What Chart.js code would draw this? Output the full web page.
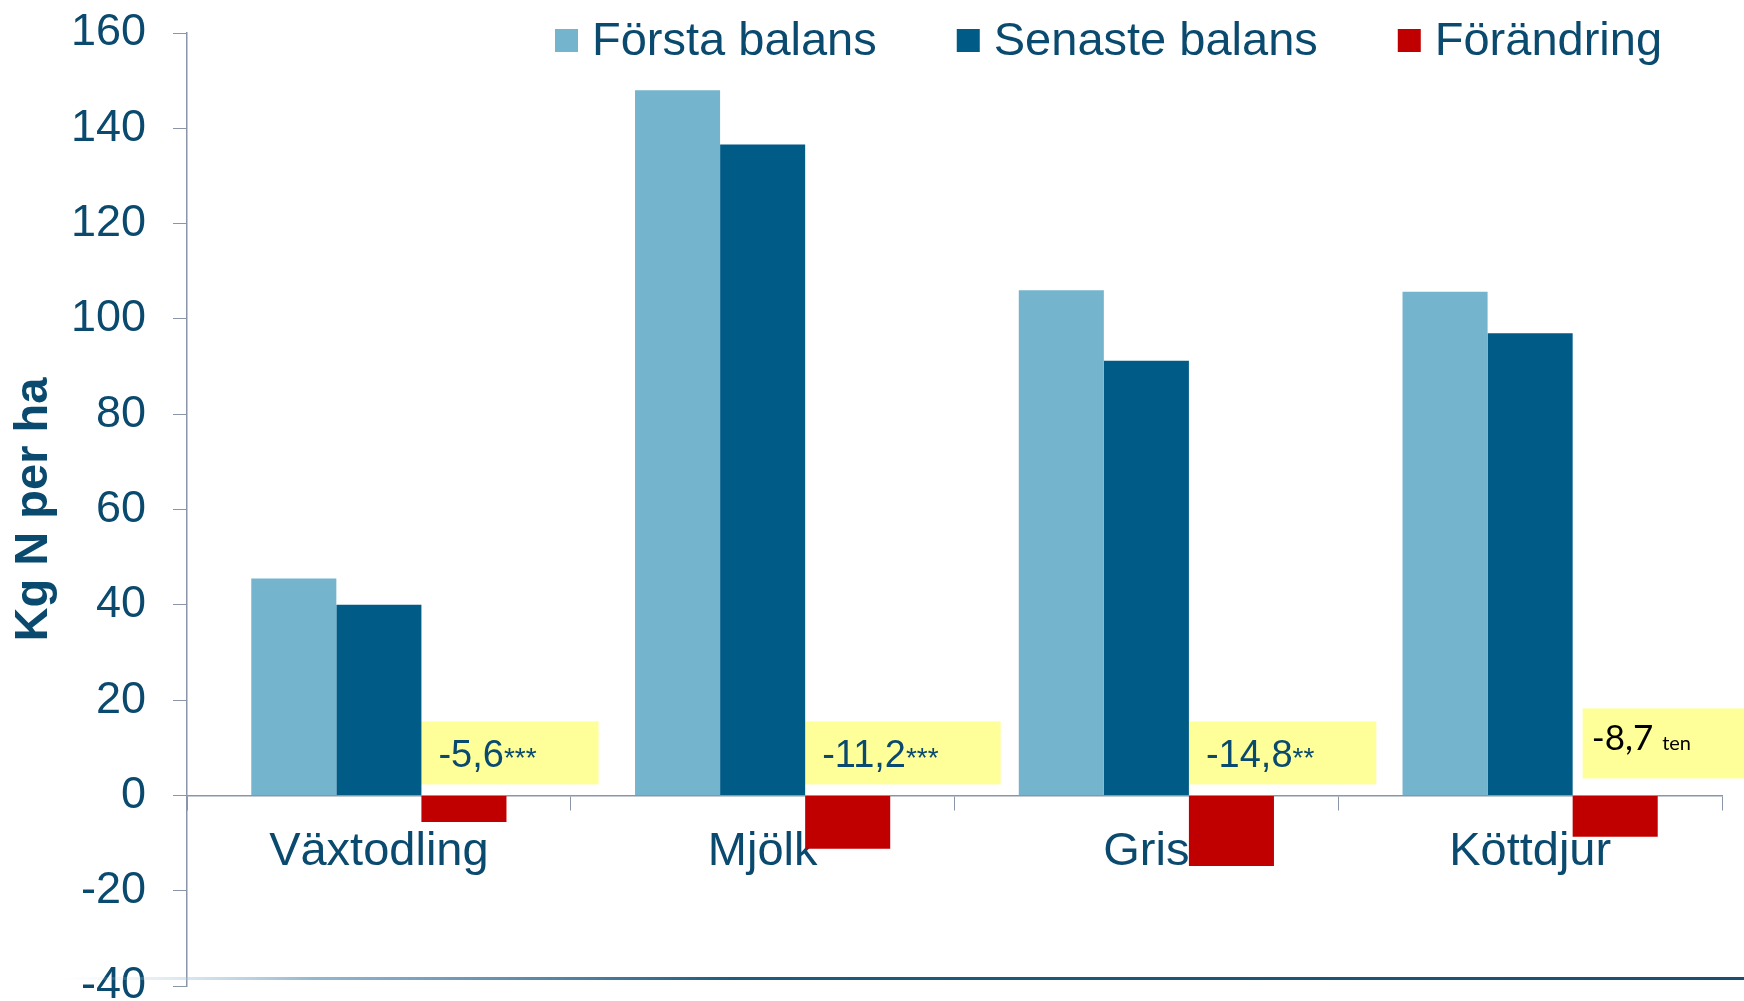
<!DOCTYPE html>
<html>
<head>
<meta charset="utf-8">
<script src="https://cdn.jsdelivr.net/npm/chart.js@4.4.1/dist/chart.umd.min.js"></script>
<style>
  html, body { margin: 0; padding: 0; background: #fff; }
  #wrap { width: 1744px; height: 1001px; }
</style>
</head>
<body>
<div id="wrap"><canvas id="chart1" width="1744" height="1001"></canvas></div>
<script>
// data
const categories = ['Växtodling', 'Mjölk', 'Gris', 'Köttdjur'];
const forstaBalans = [45.5, 148, 106, 105.7];
const senasteBalans = [40, 136.6, 91.2, 97];
const forandring = [-5.6, -11.2, -14.8, -8.7];
const forandringText = ['-5,6', '-11,2', '-14,8', '-8,7'];
const signifikans = ['***', '***', '**', 'ten'];
const yMin = -40, yMax = 160, yStep = 20;

const textColor = '#0b4a6f';
const axisColor = '#8a96a8';
const mainFont = "'Liberation Sans', Arial, sans-serif";

// gula rutor med förändringen, ritas bakom staplarna
const notesPlugin = {
    id: 'notes',
    beforeDatasetsDraw(chart) {
        const ctx = chart.ctx;
        const meta = chart.getDatasetMeta(2);
        const zeroY = chart.scales.y.getPixelForValue(0);
        ctx.save();
        meta.data.forEach((bar, i) => {
            const left = bar.x - bar.width / 2;
            const main = forandringText[i];
            const mark = signifikans[i];
            if (i < categories.length - 1) {
                ctx.font = '38px ' + mainFont;
                const w1 = ctx.measureText(main).width;
                ctx.font = '28px ' + mainFont;
                const w2 = ctx.measureText(mark).width;
                ctx.fillStyle = '#ffff99';
                ctx.fillRect(left - 1, zeroY - 74, 18 + w1 + w2 + 62, 63);
                ctx.fillStyle = textColor;
                ctx.textBaseline = 'alphabetic';
                ctx.textAlign = 'left';
                const base = zeroY - 42 + 14;
                ctx.font = '38px ' + mainFont;
                ctx.fillText(main, left + 17, base);
                ctx.font = '28px ' + mainFont;
                ctx.fillText(mark, left + 17 + w1, base);
            } else {
                ctx.fillStyle = '#ffff99';
                ctx.fillRect(left + 10, zeroY - 87, chart.width - left - 10, 70);
                ctx.fillStyle = '#000';
                ctx.textAlign = 'left';
                ctx.textBaseline = 'alphabetic';
                const base = zeroY - 58 + 13;
                ctx.font = "35px Lato, 'Open Sans', sans-serif";
                ctx.fillText(main, left + 19, base);
                const w1 = ctx.measureText(main + ' ').width;
                ctx.font = "20px Lato, 'Open Sans', sans-serif";
                ctx.fillText(mark, left + 19 + w1, base);
            }
        });
        ctx.restore();
    }
};

// legend ovanpå diagrammet + linjen längst ner
const legendPlugin = {
    id: 'topLegend',
    afterDraw(chart) {
        const ctx = chart.ctx;
        ctx.save();
        let x = 555;
        const box = 23;
        ctx.font = '47px ' + mainFont;
        ctx.textBaseline = 'middle';
        ctx.textAlign = 'left';
        chart.data.datasets.forEach(ds => {
            ctx.fillStyle = ds.backgroundColor;
            ctx.fillRect(x, 29, box, box);
            ctx.fillStyle = textColor;
            ctx.fillText(ds.label, x + box + 14, 42);
            x += box + 14 + ctx.measureText(ds.label).width + 80;
        });

        const ly = chart.chartArea.bottom - 8;
        const grad = ctx.createLinearGradient(60, 0, chart.width, 0);
        grad.addColorStop(0, 'rgba(200,220,232,0)');
        grad.addColorStop(0.15, 'rgba(120,165,195,0.8)');
        grad.addColorStop(0.4, '#1f5a80');
        grad.addColorStop(1, '#1b4f72');
        ctx.fillStyle = grad;
        ctx.fillRect(60, ly - 1, chart.width - 60, 3);
        ctx.restore();
    }
};

const ctx = document.getElementById('chart1').getContext('2d');
new Chart(ctx, {
    type: 'bar',
    data: {
        labels: categories,
        datasets: [
            { label: 'Första balans', data: forstaBalans, backgroundColor: '#74b4cd' },
            { label: 'Senaste balans', data: senasteBalans, backgroundColor: '#005b86' },
            { label: 'Förändring', data: forandring, backgroundColor: '#c00000' }
        ]
    },
    options: {
        responsive: false,
        animation: false,
        layout: { padding: { top: 33, right: 22, bottom: 15, left: 0 } },
        datasets: { bar: { barPercentage: 1, categoryPercentage: 0.665, borderWidth: 0 } },
        plugins: { legend: { display: false }, tooltip: { enabled: false } },
        scales: {
            x: {
                position: { y: 0 },
                z: 1,
                grid: { drawOnChartArea: false, drawTicks: true, tickLength: 14, color: axisColor, offset: true },
                border: { display: true, color: axisColor, width: 1.5 },
                ticks: { font: { size: 47, family: mainFont }, color: textColor, padding: 14, maxRotation: 0, autoSkip: false }
            },
            y: {
                min: yMin,
                max: yMax,
                ticks: { stepSize: yStep, font: { size: 45, family: mainFont }, color: textColor, padding: 27 },
                grid: { drawOnChartArea: false, drawTicks: true, tickLength: 14, color: axisColor },
                border: { display: true, color: axisColor, width: 1.5 },
                title: {
                    display: true, text: 'Kg N per ha', color: textColor,
                    font: { size: 47, weight: 'bold', family: mainFont },
                    padding: { top: 6, bottom: 0 }
                },
                afterFit(scale) {
                    scale.width = 187;
                    scale.paddingTop = 0;
                    scale.paddingBottom = 0;
                }
            }
        }
    },
    plugins: [notesPlugin, legendPlugin]
});
</script>
</body>
</html>
